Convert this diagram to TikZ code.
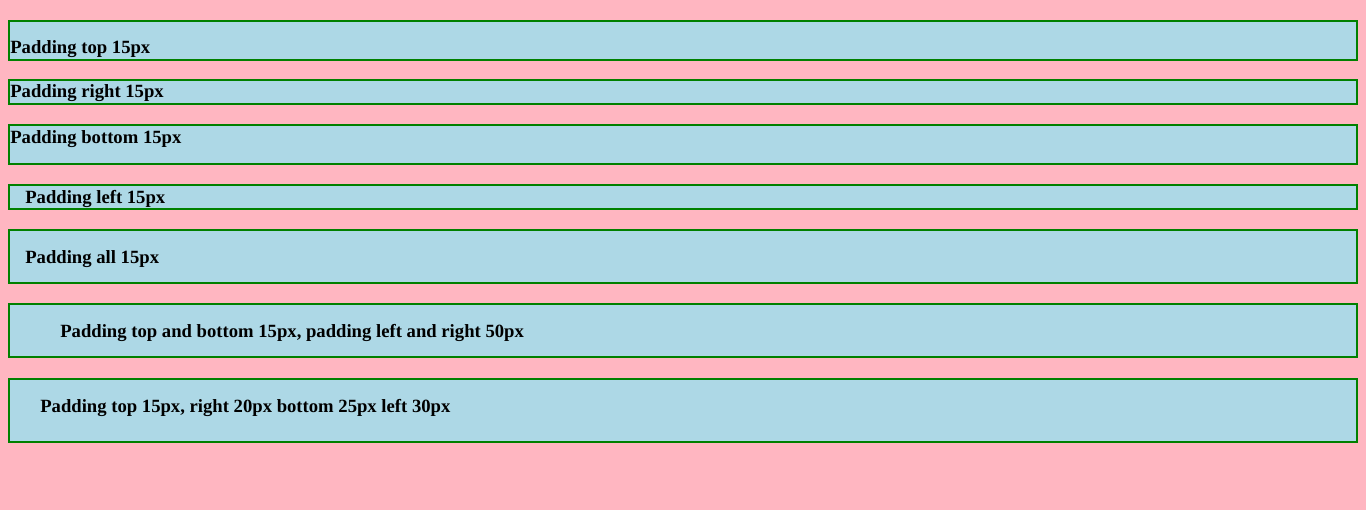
\documentclass[tikz,border=0pt]{standalone}
\usepackage{fontspec}
\setmainfont{Liberation Serif}
\usepackage{xcolor}
\definecolor{pagepink}{HTML}{FFB6C1}
\definecolor{boxblue}{HTML}{ADD8E6}
\definecolor{boxgreen}{HTML}{008000}
\tikzset{
  padbox/.style={draw=boxgreen, fill=boxblue, line width=1.5pt},
  padtext/.style={anchor=base west, inner sep=0pt, font=\fontsize{14}{16}\selectfont\bfseries}
}

\begin{document}
\begin{tikzpicture}[x=0.75pt, y=-0.75pt]
    \fill[pagepink] (0,0) rectangle (1366,510); % page background
    \useasboundingbox (0,0) rectangle (1366,510);

    \draw[padbox] (9,21) rectangle (1357,60);
    \node[padtext] (top) at (10,54) {Padding top 15px};

    \draw[padbox] (9,80) rectangle (1357,104);
    \node[padtext] (right) at (10,98) {Padding right 15px};

    \draw[padbox] (9,125) rectangle (1357,164);
    \node[padtext] (bottom) at (10,143) {Padding bottom 15px};

    \draw[padbox] (9,185) rectangle (1357,209);
    \node[padtext] (left) at (25,203) {Padding left 15px};

    \draw[padbox] (9,230) rectangle (1357,283);
    \node[padtext] (all) at (25,263) {Padding all 15px};

    \draw[padbox] (9,304) rectangle (1357,357);
    \node[padtext] (tblr) at (60,337) {Padding top and bottom 15px, padding left and right 50px};

    \draw[padbox] (9,379) rectangle (1357,442);
    \node[padtext] (each) at (40,412) {Padding top 15px, right 20px bottom 25px left 30px};

\end{tikzpicture}
\end{document}
